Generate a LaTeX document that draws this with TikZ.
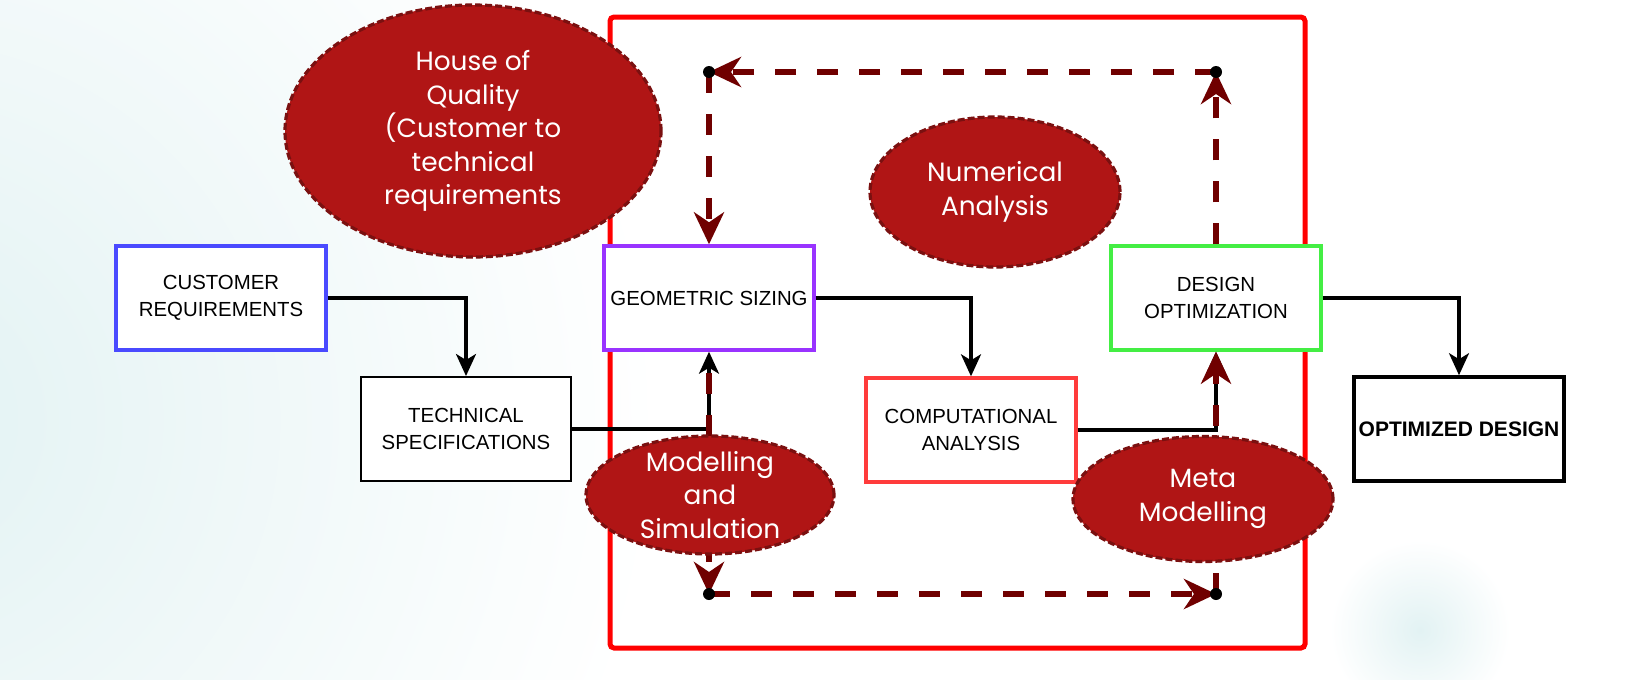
\documentclass[tikz,border=0pt]{standalone}
\usepackage{fontspec}
\setmainfont{Liberation Sans}
\newfontfamily\ellfont{Poppins}
\usetikzlibrary{arrows.meta,shapes.geometric}
\definecolor{maroon}{HTML}{700000}
\definecolor{ellfill}{HTML}{B01515}
\definecolor{ellline}{HTML}{7A1010}
\definecolor{cblue}{HTML}{4A4AFF}
\definecolor{cpurple}{HTML}{9933FF}
\definecolor{cred}{HTML}{FF3B3B}
\definecolor{cgreen}{HTML}{44EE44}
\definecolor{bgcyan}{HTML}{E2F2F3}
\begin{document}
\begin{tikzpicture}[x=0.5pt,y=-0.5pt,
  box/.style={draw, fill=white, line width=1.25pt, minimum width=105pt, minimum height=52pt, inner sep=0pt, align=center, font=\fontsize{10.2pt}{13.5pt}\selectfont},
  conn/.style={draw=black, line width=1.6pt, -{Stealth[length=11pt,width=10pt,inset=3pt]}},
  loopline/.style={draw=maroon, line width=3pt, dash pattern=on 10.5pt off 10.5pt, -{Stealth[length=16pt,width=15pt,inset=5pt]}},
  bubble/.style={ellipse, draw=ellline, fill=ellfill, line width=1.6pt, dash pattern=on 3.5pt off 1.5pt, inner sep=0pt},
  bubbletext/.style={text=white, align=center, font=\ellfont\fontsize{13.2pt}{16.8pt}\selectfont},
  corner/.style={circle, fill=black, inner sep=0pt, minimum size=6pt}
]
\useasboundingbox (0,0) rectangle (1634,680);
% background
\begin{scope}
\clip (0,0) rectangle (1634,680);
\fill[white] (0,0) rectangle (1634,680);
\shade[inner color=bgcyan, outer color=white] (-100,420) circle (760);
\shade[inner color=bgcyan, outer color=white] (1420,630) circle (90);
\end{scope}
% red frame
\draw[red, line width=2.5pt, rounded corners=2pt] (610,17) rectangle (1305,648);
% boxes
\node[box, draw=cblue, line width=1.7pt] (cr) at (221,298) {CUSTOMER\\REQUIREMENTS};
\node[box, line width=1pt] (ts) at (466,429) {TECHNICAL\\SPECIFICATIONS};
\node[box, draw=cpurple, line width=1.7pt] (gs) at (709,298) {GEOMETRIC SIZING};
\node[box, draw=cred, line width=1.7pt] (ca) at (971,430) {COMPUTATIONAL\\ANALYSIS};
\node[box, draw=cgreen, line width=1.7pt] (do) at (1216,298) {DESIGN\\OPTIMIZATION};
\node[box, line width=1.8pt, font=\bfseries\fontsize{10.5pt}{12pt}\selectfont] (od) at (1459,429) {OPTIMIZED DESIGN};
% corner points of the loop
\coordinate (tl) at (709,72);
\coordinate (tr) at (1216,72);
\coordinate (bl) at (709,594);
\coordinate (br) at (1216,594);
% solid connectors
\draw[conn] (cr.east) -| (ts.north);
\draw[conn] (ts.east) -| (gs.south);
\draw[conn] (gs.east) -| (ca.north);
\draw[conn] (ca.east) -| (do.south);
\draw[conn] (do.east) -| (od.north);
% dashed loop
\draw[loopline, dash phase=10.5pt] (gs.south) -- (bl);
\draw[loopline] (bl) -- (br);
\draw[loopline] (br) -- (do.south);
\draw[loopline] (do.north) -- (tr);
\draw[loopline] (tr) -- (tl);
\draw[loopline] (tl) -- (gs.north);
\node[corner] (dtl) at (tl) {};
\node[corner] (dtr) at (tr) {};
\node[corner] (dbl) at (bl) {};
\node[corner] (dbr) at (br) {};
% bubbles
\node[bubble, minimum width=188pt, minimum height=126pt] (hq) at (473,131) {};
\node[bubbletext] (hqt) at (hq) {House of\\Quality\\(Customer to\\technical\\requirements};
\node[bubble, minimum width=125pt, minimum height=75pt] (na) at (995,192) {};
\node[bubbletext] (nat) at (na) {Numerical\\Analysis};
\node[bubble, minimum width=124pt, minimum height=59pt] (ms) at (710,495) {};
\node[bubbletext] (mst) at (ms) {Modelling\\and\\Simulation};
\node[bubble, minimum width=130pt, minimum height=62.5pt] (mm) at (1203,499) {};
\node[bubbletext] (mmt) at (mm) {Meta\\Modelling};
\end{tikzpicture}
\end{document}
